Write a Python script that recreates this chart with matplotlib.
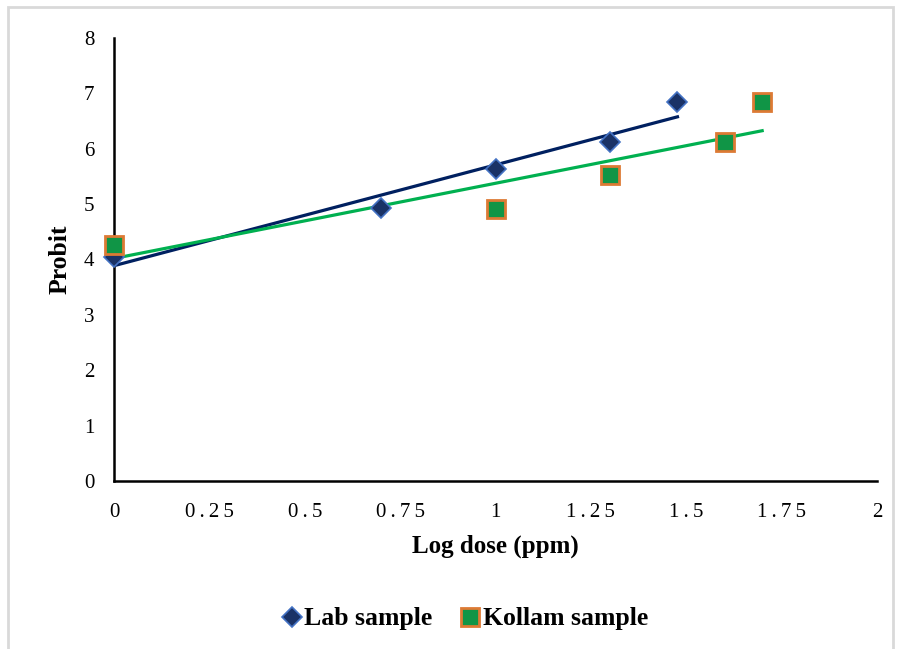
import numpy as np
import matplotlib.pyplot as plt
from matplotlib.patches import Rectangle

plt.rcParams['font.family'] = ['Liberation Serif', 'DejaVu Serif']

# data (x = log10 of dose)
lab_x = [0.0, 0.699, 1.0, 1.301, 1.477]
lab_y = [4.05, 4.93, 5.63, 6.13, 6.85]
kollam_x = [0.0, 1.0, 1.301, 1.602, 1.699]
kollam_y = [4.27, 4.92, 5.53, 6.13, 6.85]

x_ticks = [0, 0.25, 0.5, 0.75, 1, 1.25, 1.5, 1.75, 2]
x_labels = ['0', '0.25', '0.5', '0.75', '1', '1.25', '1.5', '1.75', '2']
y_ticks = [0, 1, 2, 3, 4, 5, 6, 7, 8]

fig = plt.figure(figsize=(9.02, 6.49), dpi=100)
W, H = 902, 649
ax = fig.add_axes([114 / W, 1 - 481 / H, (877 - 114) / W, (481 - 38) / H])

# outer chart border
fig.patches.append(Rectangle((8 / W, -0.05), (893 - 8) / W, 1 - 7 / H + 0.05,
                             transform=fig.transFigure, fill=False,
                             edgecolor='#d9d9d9', linewidth=2))

# linear trendlines
for xs, ys, col in [(lab_x, lab_y, '#002060'), (kollam_x, kollam_y, '#00b050')]:
    m, b = np.polyfit(xs, ys, 1)
    xx = np.array([min(xs), max(xs)])
    ax.plot(xx, m * xx + b, color=col, linewidth=2.3, zorder=2)

ax.plot(lab_x, lab_y, linestyle='none', marker='D', markersize=10,
        markerfacecolor='#1a3266', markeredgecolor='#4472c4', markeredgewidth=1.2,
        label='Lab sample', zorder=3, clip_on=False)
ax.plot(kollam_x, kollam_y, linestyle='none', marker='s', markersize=13.5,
        markerfacecolor='#109546', markeredgecolor='#dd7a34', markeredgewidth=2,
        label='Kollam sample', zorder=4, clip_on=False)

ax.set_xlim(0, 2)
ax.set_ylim(0, 8)
ax.set_xticks(x_ticks)
# letter-spaced tick labels like the original
ax.set_xticklabels(['\u2009'.join(s) for s in x_labels])
ax.set_yticks(y_ticks)
ax.tick_params(length=0, labelsize=15)
ax.tick_params(axis='x', pad=16)
ax.tick_params(axis='y', pad=14)

for s in ['top', 'right']:
    ax.spines[s].set_visible(False)
for s in ['left', 'bottom']:
    ax.spines[s].set_linewidth(1.8)
    ax.spines[s].set_color('black')

ax.set_xlabel('Log dose (ppm)', fontsize=18, fontweight='bold')
ax.set_ylabel('Probit', fontsize=18.5, fontweight='bold')
ax.xaxis.set_label_coords(0.5, (481 - 535) / 443)
ax.yaxis.set_label_coords((72 - 114) / 763, 0.5)

leg = fig.legend(loc='center', bbox_to_anchor=(464 / W, 1 - 619 / H), ncol=2,
                 frameon=False, prop={'weight': 'bold', 'size': 18.5},
                 handletextpad=0.05, columnspacing=1.0, handlelength=0.9)

fig.savefig('out.png', dpi=100)
